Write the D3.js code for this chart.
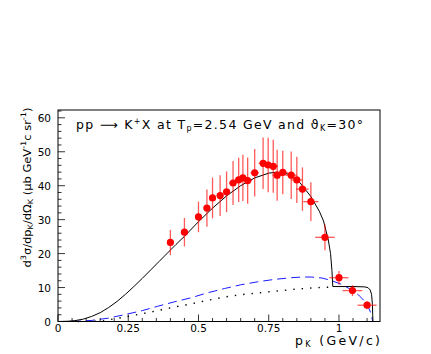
<!DOCTYPE html>
<html>
<head>
<meta charset="utf-8">
<script src="https://cdn.jsdelivr.net/npm/d3@7"></script>
<style>
  html, body { margin: 0; padding: 0; background: #fff; }
  svg { display: block; font-family: "DejaVu Sans", sans-serif; }
</style>
</head>
<body>
<div id="host"><svg></svg></div>
<script>
const WIDTH = 431;
const HEIGHT = 354;
const LEFT = 58;
const RIGHT = 380;
const TOP = 110;
const BOTTOM = 321.5;

const RED = "#ff0000";
const BLUE = "#1a1aff";

// measured points: p_K, cross section, errors
const pointX = [0.40, 0.45, 0.50, 0.53, 0.55, 0.577, 0.60, 0.623, 0.643, 0.658, 0.675, 0.70, 0.73,
  0.748, 0.766, 0.78, 0.80, 0.83, 0.85, 0.87, 0.90, 0.95, 1.00, 1.048, 1.10];
const pointY = [23.3, 26.3, 30.8, 33.4, 36.4, 37.1, 38.2, 40.8, 41.7, 42.3, 41.5, 43.8, 46.6,
  46.1, 45.7, 43.1, 43.9, 43.1, 41.7, 39.0, 35.3, 24.8, 12.9, 9.1, 4.8];
const pointYErr = [3.7, 4.2, 4.5, 5.5, 6.0, 6.0, 6.0, 6.5, 6.5, 6.8, 6.8, 7.0, 7.6,
  8.0, 7.8, 7.5, 6.4, 7.0, 6.8, 6.4, 5.7, 3.8, 2.0, 1.6, 1.2];
const pointXErr = [0.012, 0.012, 0.012, 0.012, 0.012, 0.012, 0.012, 0.014, 0.014, 0.014, 0.015, 0.015, 0.016,
  0.016, 0.017, 0.017, 0.018, 0.02, 0.02, 0.022, 0.027, 0.035, 0.034, 0.035, 0.034];

// total model (solid)
const totalX = [0.0, 0.03, 0.06, 0.09, 0.12, 0.15, 0.18, 0.21, 0.24, 0.27, 0.30, 0.33, 0.36, 0.39,
  0.42, 0.45, 0.50, 0.55, 0.60, 0.65, 0.70, 0.75, 0.78, 0.82, 0.86, 0.90, 0.93, 0.945, 0.962,
  0.970, 0.975, 0.978, 1.00, 1.05, 1.09, 1.103, 1.111, 1.116, 1.119, 1.120, 1.121];
const totalY = [0.0, 0.05, 0.25, 0.7, 1.5, 2.6, 4.1, 5.9, 8.0, 10.3, 12.7, 15.2, 17.7, 20.2,
  22.7, 25.1, 29.4, 33.4, 37.0, 40.0, 42.3, 43.7, 44.0, 43.4, 41.0, 36.8, 32.5, 29.6, 24.0,
  20.0, 15.0, 10.3, 10.3, 10.3, 10.2, 10.0, 9.3, 8.0, 5.0, 2.0, 0.0];

// dashed component
const dashX = [0.0, 0.06, 0.118, 0.18, 0.236, 0.30, 0.355, 0.41, 0.474, 0.53, 0.592, 0.65, 0.711,
  0.77, 0.830, 0.87, 0.901, 0.94, 0.972, 1.01, 1.043, 1.07, 1.091, 1.105, 1.115, 1.12];
const dashY = [0.0, 0.05, 0.3, 1.0, 2.0, 3.2, 4.5, 5.7, 7.0, 8.4, 9.7, 10.8, 11.7,
  12.4, 12.9, 13.1, 13.1, 12.8, 12.1, 10.9, 9.4, 7.8, 6.0, 4.2, 2.1, 0.0];

// dotted component
const dotX = [0.07, 0.153, 0.236, 0.30, 0.355, 0.41, 0.474, 0.53, 0.592, 0.65, 0.711, 0.77,
  0.830, 0.89, 0.949, 0.975];
const dotY = [0.0, 0.1, 1.3, 2.3, 3.2, 4.2, 5.2, 6.2, 7.2, 7.9, 8.4, 8.9,
  9.4, 9.8, 10.1, 10.1];

const xTicks = [0, 0.25, 0.5, 0.75, 1];
const xTickLabels = ["0", "0.25", "0.5", "0.75", "1"];
const yTicks = [0, 10, 20, 30, 40, 50, 60];

const x = d3.scaleLinear().domain([0, 1.146]).range([LEFT, RIGHT]);
const y = d3.scaleLinear().domain([0, 62.3]).range([BOTTOM, TOP]);

function zip(xs, ys) {
  return xs.map((v, i) => [v, ys[i]]);
}

function drawAxes(svg) {
  const g = svg.append("g");

  // frame
  g.append("rect")
    .attr("x", LEFT)
    .attr("y", TOP)
    .attr("width", RIGHT - LEFT)
    .attr("height", BOTTOM - TOP)
    .attr("fill", "none")
    .attr("stroke", "#000")
    .attr("stroke-width", 1);

  // x ticks, drawn inward
  const xMinor = d3.range(0, 1.146, 0.05);
  g.append("g")
    .selectAll("line")
    .data(xMinor)
    .join("line")
    .attr("x1", (d) => x(d))
    .attr("x2", (d) => x(d))
    .attr("y1", BOTTOM)
    .attr("y2", (d) => (Math.abs(d / 0.25 - Math.round(d / 0.25)) < 1e-6 ? BOTTOM - 7 : BOTTOM - 3.5))
    .attr("stroke", "#000")
    .attr("stroke-width", 0.8);

  g.append("g")
    .selectAll("text")
    .data(xTicks)
    .join("text")
    .attr("x", (d) => x(d))
    .attr("y", BOTTOM + 10)
    .attr("text-anchor", "middle")
    .attr("font-size", 10.5)
    .text((d, i) => xTickLabels[i]);

  // y ticks
  const yMinor = d3.range(0, 62.3, 2);
  g.append("g")
    .selectAll("line")
    .data(yMinor)
    .join("line")
    .attr("x1", LEFT)
    .attr("x2", (d) => (d % 10 === 0 ? LEFT + 7 : LEFT + 3.5))
    .attr("y1", (d) => y(d))
    .attr("y2", (d) => y(d))
    .attr("stroke", "#000")
    .attr("stroke-width", 0.8);

  g.append("g")
    .selectAll("text")
    .data(yTicks)
    .join("text")
    .attr("x", LEFT - 7)
    .attr("y", (d) => y(d) + 4)
    .attr("text-anchor", "end")
    .attr("font-size", 10.5)
    .text((d) => d);

  // x title
  const xt = svg.append("text")
    .attr("x", RIGHT)
    .attr("y", 345)
    .attr("text-anchor", "end")
    .attr("font-size", 12.5)
    .attr("textLength", 85)
    .attr("lengthAdjust", "spacing");
  xt.append("tspan").text("p");
  xt.append("tspan").attr("font-size", 8).attr("dy", 2).text("K");
  xt.append("tspan").attr("dy", -2).text(" (GeV/c)");

  // y title
  const yt = svg.append("text")
    .attr("transform", `translate(31,187.5) rotate(-90)`)
    .attr("text-anchor", "middle")
    .attr("font-size", 10.5)
    .attr("textLength", 160)
    .attr("lengthAdjust", "spacingAndGlyphs");
  yt.append("tspan").text("d");
  yt.append("tspan").attr("font-size", 7.5).attr("dy", -5).text("3");
  yt.append("tspan").attr("dy", 5).text("σ/dp");
  yt.append("tspan").attr("font-size", 7.5).attr("dy", 2).text("K");
  yt.append("tspan").attr("dy", -2).text("/dΩ");
  yt.append("tspan").attr("font-size", 7.5).attr("dy", 2).text("K");
  yt.append("tspan").attr("dy", -2).text(" (μb GeV");
  yt.append("tspan").attr("font-size", 7.5).attr("dy", -5).text("-1");
  yt.append("tspan").attr("dy", 5).text("c sr");
  yt.append("tspan").attr("font-size", 7.5).attr("dy", -5).text("-1");
  yt.append("tspan").attr("dy", 5).text(")");

  // reaction label
  const tt = svg.append("text")
    .attr("x", 76)
    .attr("y", 129)
    .attr("font-size", 12.5)
    .attr("textLength", 287)
    .attr("lengthAdjust", "spacing");
  tt.append("tspan").text("pp ⟶ K");
  tt.append("tspan").attr("font-size", 8).attr("dy", -5).text("+");
  tt.append("tspan").attr("dy", 5).text("X at T");
  tt.append("tspan").attr("font-size", 8).attr("dy", 2).text("p");
  tt.append("tspan").attr("dy", -2).text("=2.54 GeV and ϑ");
  tt.append("tspan").attr("font-size", 8).attr("dy", 2).text("K");
  tt.append("tspan").attr("dy", -2).text("=30°");
}

function drawCurves(svg) {
  const line = d3.line()
    .x((d) => x(d[0]))
    .y((d) => y(d[1]))
    .curve(d3.curveLinear);

  svg.append("path")
    .attr("d", line(zip(dotX, dotY)))
    .attr("fill", "none")
    .attr("stroke", "#000")
    .attr("stroke-width", 1.4)
    .attr("stroke-dasharray", "1.4,7");

  svg.append("path")
    .attr("d", line(zip(dashX, dashY)))
    .attr("fill", "none")
    .attr("stroke", BLUE)
    .attr("stroke-width", 1)
    .attr("stroke-dasharray", "9,5");

  svg.append("path")
    .attr("d", line(zip(totalX, totalY)))
    .attr("fill", "none")
    .attr("stroke", "#000")
    .attr("stroke-width", 1);
}

function drawPoints(svg) {
  const data = pointX.map((v, i) => ({
    x: v, y: pointY[i], ex: pointXErr[i], ey: pointYErr[i],
  }));
  const g = svg.append("g");

  g.selectAll("line.v")
    .data(data)
    .join("line")
    .attr("class", "v")
    .attr("x1", (d) => x(d.x))
    .attr("x2", (d) => x(d.x))
    .attr("y1", (d) => y(d.y - d.ey))
    .attr("y2", (d) => y(d.y + d.ey))
    .attr("stroke", RED)
    .attr("stroke-opacity", 0.65)
    .attr("stroke-width", 1.3);

  g.selectAll("line.h")
    .data(data)
    .join("line")
    .attr("class", "h")
    .attr("x1", (d) => x(d.x - d.ex))
    .attr("x2", (d) => x(d.x + d.ex))
    .attr("y1", (d) => y(d.y))
    .attr("y2", (d) => y(d.y))
    .attr("stroke", RED)
    .attr("stroke-opacity", 0.65)
    .attr("stroke-width", 1.3);

  g.selectAll("circle")
    .data(data)
    .join("circle")
    .attr("cx", (d) => x(d.x))
    .attr("cy", (d) => y(d.y))
    .attr("r", 3.6)
    .attr("fill", RED);
}

const svg = d3.select("#host svg").attr("width", WIDTH).attr("height", HEIGHT);
drawCurves(svg);
drawPoints(svg);
drawAxes(svg);
</script>
</body>
</html>
